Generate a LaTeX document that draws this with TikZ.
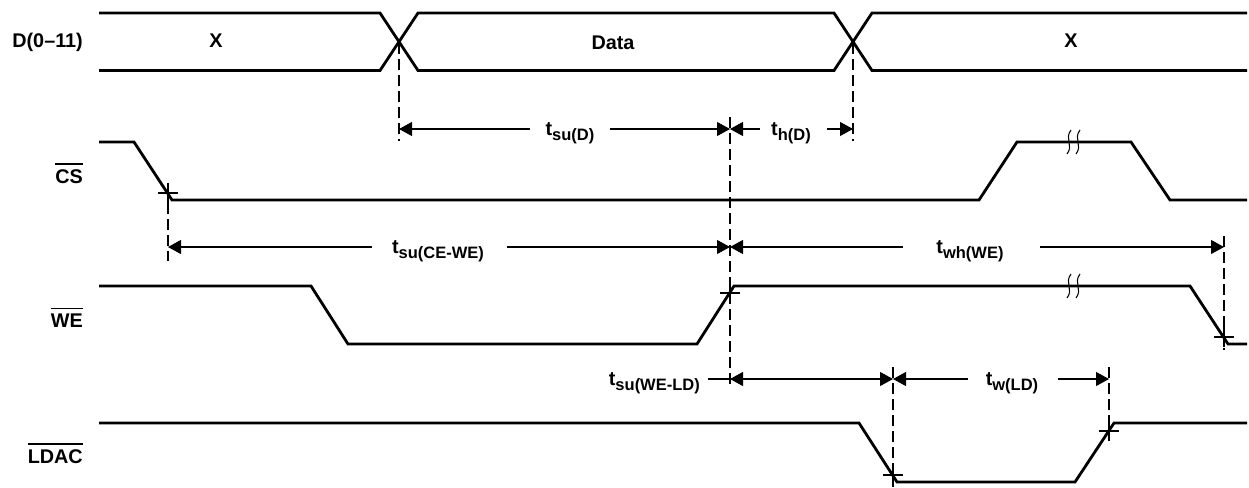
\documentclass[tikz,border=0pt]{standalone}
\usepackage{fontspec}
\setmainfont{Liberation Sans}
\usetikzlibrary{arrows.meta}
\newcommand\ovl[1]{\vbox{\hrule height 1.3pt\kern 4.5pt\hbox{#1}}}
\newcommand\tlab[1]{t\raisebox{-5pt}{\fontsize{16.5}{16.5}\selectfont #1}}
\begin{document}
\begin{tikzpicture}[x=1pt,y=-1pt,
  sig/.style={line width=2.8pt, line join=miter},
  dim/.style={line width=1.05pt},
  guide/.style={line width=1.05pt, dash pattern=on 11pt off 5pt},
  tip/.style={-{Triangle[length=13pt,width=14pt]}},
  bothtip/.style={{Triangle[length=13pt,width=14pt]}-{Triangle[length=13pt,width=14pt]}},
  lab/.style={font=\fontsize{19.8}{19.8}\selectfont\bfseries, inner sep=0pt},
  tmark/.pic={\draw[line width=1.05pt] (-10,0) -- (10,0) (0,-10) -- (0,10);},
  brk/.pic={\draw[line width=1.05pt] (2,-12) .. controls (-5,-3) and (5,3) .. (-2,12);},
]
\useasboundingbox (0,0) rectangle (1249,487);

% signal names
\node[lab,anchor=base east] (lD) at (83,48) {D(0–11)};
\node[lab,anchor=base east] (lCS) at (83,183) {\ovl{CS}};
\node[lab,anchor=base east] (lWE) at (83,327) {\ovl{WE}};
\node[lab,anchor=base east] (lLD) at (83,463) {\ovl{LDAC}};

% bus values
\node[lab,anchor=base] (x1) at (216,48) {X};
\node[lab,anchor=base] (data) at (613,49) {Data};
\node[lab,anchor=base] (x2) at (1071,48) {X};

% waveforms
\draw[sig] (99,13) -- (380,13) -- (418,70.5) -- (834,70.5) -- (872,13) -- (1247,13);
\draw[sig] (99,70.5) -- (380,70.5) -- (418,13) -- (834,13) -- (872,70.5) -- (1247,70.5);
\draw[sig] (99,142) -- (134,142) -- (172,200) -- (979,200) -- (1017,142) -- (1131,142) -- (1170,200) -- (1247,200);
\draw[sig] (99,286) -- (311,286) -- (348,344) -- (697,344) -- (734,286) -- (1190,286) -- (1228,344) -- (1247,344);
\draw[sig] (99,423) -- (859,423) -- (897,482) -- (1075,482) -- (1114,423) -- (1247,423);

% break marks
\pic at (1069,142) {brk}; \pic at (1078,142) {brk};
\pic at (1069,286) {brk}; \pic at (1078,286) {brk};

% guide lines
\draw[guide] (399,43) -- (399,141);
\draw[guide] (853,43) -- (853,141);
\draw[guide] (730,117) -- (730,386);
\draw[guide] (168,203) -- (168,261);
\draw[guide] (1224,236) -- (1224,350);
\draw[guide] (893,367) -- (893,487);
\draw[guide] (1109,367) -- (1109,436);

% tick marks
\pic at (168,193) {tmark};
\pic at (730,293) {tmark};
\pic at (1224,337) {tmark};
\pic at (893,475) {tmark};
\pic at (1109,431) {tmark};

% timing labels
\node[lab,anchor=base] (tsuD) at (570,135) {\tlab{su(D)}};
\node[lab,anchor=base] (thD) at (791,135) {\tlab{h(D)}};
\node[lab,anchor=base] (tsuCW) at (438,253) {\tlab{su(CE-WE)}};
\node[lab,anchor=base] (twhW) at (970,253) {\tlab{wh(WE)}};
\node[lab,anchor=base east] (tsuWL) at (700,385) {\tlab{su(WE-LD)}};
\node[lab,anchor=base] (twL) at (1012,385) {\tlab{w(LD)}};

% dimension coordinates
\coordinate (r1a) at (399,129); \coordinate (r1b) at (730,129); \coordinate (r1c) at (853,129);
\coordinate (r2a) at (168,247); \coordinate (r2b) at (730,247); \coordinate (r2c) at (1224,247);
\coordinate (r3a) at (730,379); \coordinate (r3b) at (893,379); \coordinate (r3c) at (1109,379);

% dimension arrows
\draw[dim,tip] (530,129) -- (r1a);
\draw[dim,tip] (610,129) -- (r1b);
\draw[dim,tip] (760,129) -- (r1b);
\draw[dim,tip] (827,129) -- (r1c);
\draw[dim,tip] (372,247) -- (r2a);
\draw[dim,tip] (507,247) -- (r2b);
\draw[dim,tip] (903,247) -- (r2b);
\draw[dim,tip] (1040,247) -- (r2c);
\draw[dim] (708,379) -- (r3a);
\draw[dim,bothtip] (r3a) -- (r3b);
\draw[dim,tip] (968,379) -- (r3b);
\draw[dim,tip] (1058,379) -- (r3c);
\end{tikzpicture}
\end{document}
